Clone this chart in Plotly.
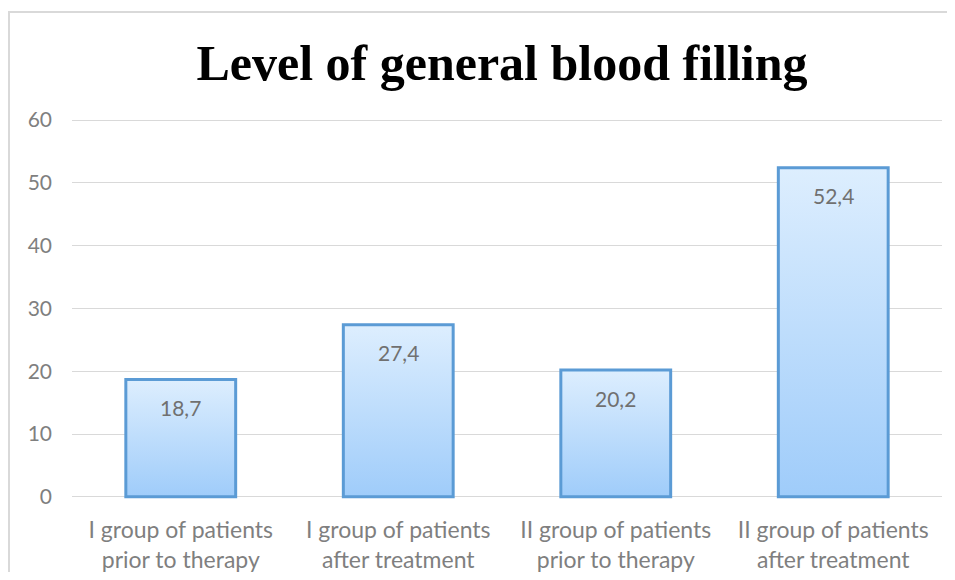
import plotly.graph_objects as go

categories = ["I group of patients<br>prior to therapy", "I group of patients<br>after treatment",
              "II group of patients<br>prior to therapy", "II group of patients<br>after treatment"]
values = [18.7, 27.4, 20.2, 52.4]
value_labels = ["18,7", "27,4", "20,2", "52,4"]
y_ticks = [0, 10, 20, 30, 40, 50, 60]

BAR_W = 0.505
xs = list(range(len(categories)))
W, H = 939, 564  # page has an 8px body margin
ML, MR, MT, MB = 64, 5, 109, 72
PW, PH = W - ML - MR, H - MT - MB

fig = go.Figure()
# gradient fill for each bar (underlay)
for i, v in zip(xs, values):
    fig.add_trace(go.Scatter(
        x=[i - BAR_W / 2, i + BAR_W / 2, i + BAR_W / 2, i - BAR_W / 2, i - BAR_W / 2],
        y=[0, 0, v, v, 0], mode="lines", line=dict(width=0), fill="toself",
        fillgradient=dict(type="vertical", colorscale=[[0, "#9fccfa"], [1, "#ddeefe"]]),
        hoverinfo="skip", showlegend=False))

# bar outlines on an overlaying subplot so they sit above the fills
fig.add_trace(go.Bar(
    x=xs, y=values, width=BAR_W, xaxis="x2", yaxis="y2",
    marker=dict(color="rgba(0,0,0,0)", line=dict(color="#5b9bd5", width=3)),
    hoverinfo="skip", showlegend=False))

annotations = [dict(x=i, y=v, xref="x", yref="y", text=t, showarrow=False,
                    yanchor="middle", yshift=-28,
                    font=dict(family="Lato", size=21, color="#707070"))
               for i, v, t in zip(xs, values, value_labels)]

YR = [-0.5, 60.5]
fig.update_layout(
    width=W, height=H,
    margin=dict(l=ML, r=MR, t=MT, b=MB),
    paper_bgcolor="white", plot_bgcolor="white",
    title=dict(text="<b>Level of general blood filling</b>", x=494 / W, xanchor="center",
               y=1 - 54 / H, yanchor="middle",
               font=dict(family="Liberation Serif", size=50, color="black")),
    xaxis=dict(range=[-0.5, 3.5], tickvals=xs, ticktext=categories, showgrid=False,
               zeroline=False, showline=False, ticks="", ticklabelstandoff=14,
               automargin=False,
               tickfont=dict(family="Lato", size=23, color="#7f7f7f")),
    yaxis=dict(range=YR, tickvals=y_ticks, showgrid=True, gridcolor="#d9d9d9",
               gridwidth=1.3, zeroline=False, showline=False, ticks="", ticklabelstandoff=19,
               automargin=False,
               tickfont=dict(family="Lato", size=21, color="#7f7f7f")),
    xaxis2=dict(overlaying="x", matches="x", visible=False),
    yaxis2=dict(overlaying="y", matches="y", visible=False, range=YR),
    annotations=annotations,
    shapes=[dict(type="rect", xref="paper", yref="paper",
                 x0=(1 - ML) / PW, x1=(W + 40 - ML) / PW,
                 y0=-1.0, y1=(PH + MT - 4) / PH,
                 line=dict(color="#d9d9d9", width=2), layer="below")],
)
fig.write_html("out.html")
